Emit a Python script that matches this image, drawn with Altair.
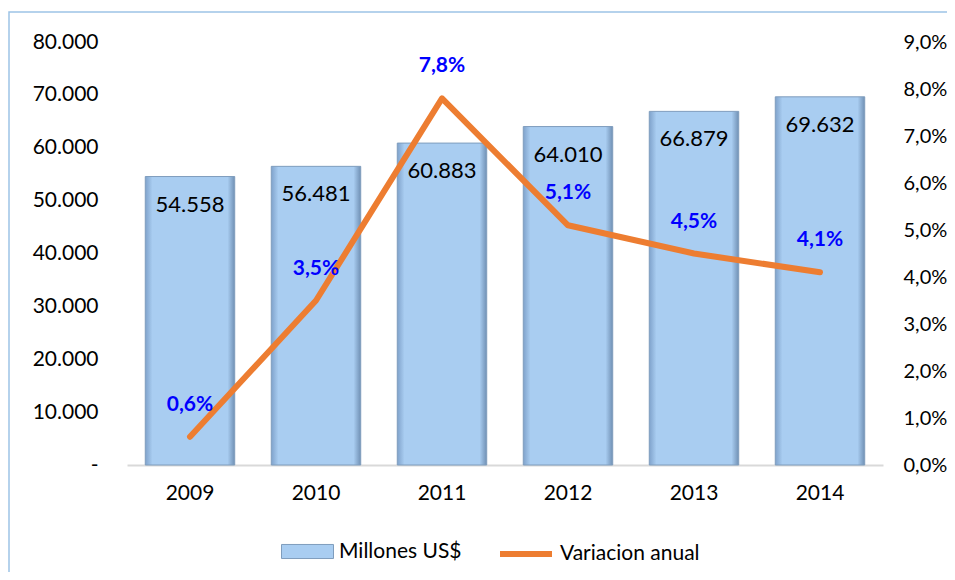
import altair as alt
import pandas as pd

years = ["2009", "2010", "2011", "2012", "2013", "2014"]
millones = [54558, 56481, 60883, 64010, 66879, 69632]
variacion = [0.006, 0.035, 0.078, 0.051, 0.045, 0.041]

df = pd.DataFrame({"year": years, "millones": millones, "variacion": variacion})
df["m_label"] = [f"{v:,}".replace(",", ".") for v in millones]
df["v_label"] = [f"{v*100:.1f}%".replace(".", ",") for v in variacion]
df["s_bar"] = "Millones US$"
df["s_line"] = "Variacion anual"

FONT = "Lato"
BAR_BASE = "#A9CDF1"
FS = 21

x_enc = alt.X(
    "year:N", title=None,
    scale=alt.Scale(paddingInner=0.29, paddingOuter=0.145),
    axis=alt.Axis(labelAngle=0, labelFontSize=FS, labelFont=FONT, labelColor="black",
                  labelPadding=17, ticks=False, domainColor="#D9D9D9", domainWidth=2,
                  grid=False),
)

y_left = alt.Y(
    "millones:Q", title=None,
    scale=alt.Scale(domain=[0, 80000]),
    axis=alt.Axis(values=list(range(0, 80001, 10000)), labelFontSize=FS, labelFont=FONT,
                  labelColor="black", labelPadding=29, ticks=False, domain=False, grid=False,
                  labelExpr="datum.value == 0 ? '-\u00a0\u00a0\u00a0' : replace(format(datum.value, ',.0f'), ',', '.')"),
)

y_right = alt.Y(
    "variacion:Q", title=None,
    scale=alt.Scale(domain=[0, 0.09]),
    axis=alt.Axis(orient="right", values=[i / 100 for i in range(0, 10)], labelFontSize=20,
                  labelFont=FONT, labelColor="black", labelPadding=20, ticks=False,
                  domain=False, grid=False,
                  labelExpr="replace(format(datum.value, '.1%'), '.', ',')"),
)

gradient = alt.Gradient(
    gradient="linear", x1=0, x2=1, y1=0, y2=0,
    stops=[
        alt.GradientStop(color="#7FA2CB", offset=0),
        alt.GradientStop(color=BAR_BASE, offset=0.08),
        alt.GradientStop(color=BAR_BASE, offset=0.92),
        alt.GradientStop(color="#7090B4", offset=1),
    ],
)

base = alt.Chart(df)

bars = base.mark_bar(fill=gradient, stroke="#7F9DBD", strokeWidth=1).encode(x=x_enc, y=y_left)

bar_legend = base.mark_bar(opacity=0).encode(
    x=x_enc, y=y_left,
    fill=alt.Fill("s_bar:N", scale=alt.Scale(range=[BAR_BASE]),
                  legend=alt.Legend(orient="none", legendX=154, legendY=483, title=None,
                                    symbolType="M-1,-0.27H1V0.27H-1Z", symbolSize=2704,
                                    symbolOpacity=1, symbolStrokeColor="#7F9DBD",
                                    symbolStrokeWidth=1, labelFontSize=FS, labelFont=FONT,
                                    labelColor="black", labelOffset=5)),
)

bar_text = base.mark_text(dy=28, baseline="middle", fontSize=22, font=FONT, color="black").encode(
    x=x_enc, y=y_left, text="m_label:N")

line = base.mark_line(strokeWidth=6, strokeCap="round", strokeJoin="round").encode(
    x=x_enc, y=y_right,
    stroke=alt.Stroke("s_line:N", scale=alt.Scale(range=["#ED7D31"]),
                      legend=alt.Legend(orient="none", legendX=370, legendY=483, title=None,
                                        symbolType="stroke", symbolSize=2704,
                                        symbolStrokeWidth=6, labelFontSize=FS, labelFont=FONT,
                                        labelColor="black", labelOffset=5)),
)

line_text = base.mark_text(dy=-32, baseline="middle", fontSize=21, font=FONT,
                           fontWeight="bold", color="#0000FF").encode(
    x=x_enc, y=y_right, text="v_label:N")

frame = alt.Chart(pd.DataFrame({"a": [0]})).mark_rect(
    fill="transparent", stroke="#9DC3E6", strokeWidth=1.5, clip=False
).encode(x=alt.value(-118), x2=alt.value(900), y=alt.value(-30), y2=alt.value(700))

left = alt.layer(frame, bars, bar_legend, bar_text)
right = alt.layer(line, line_text)

chart = alt.layer(left, right).resolve_scale(y="independent").properties(
    width=756, height=423,
    autosize=alt.AutoSizeParams(type="none"),
    padding={"left": 119, "top": 34, "right": 64, "bottom": 107},
).configure_view(stroke=None)

chart.save("out.html", embed_options={"renderer": "svg", "actions": False})
